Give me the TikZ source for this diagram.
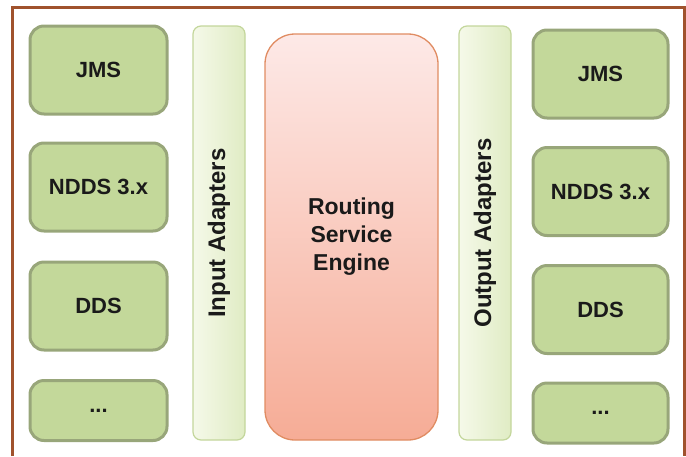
\documentclass[tikz,border=0pt]{standalone}
\usepackage{fontspec}
\setmainfont{Liberation Sans}
\usepackage{tikz}
\usetikzlibrary{positioning}
\definecolor{framebrown}{RGB}{160,82,45}
\definecolor{protofill}{RGB}{195,216,154}
\definecolor{protoline}{RGB}{152,166,122}
\definecolor{bartop}{RGB}{245,249,233}
\definecolor{barbot}{RGB}{224,236,196}
\definecolor{barline}{RGB}{195,214,155}
\definecolor{enginetop}{RGB}{253,233,231}
\definecolor{enginebot}{RGB}{246,172,150}
\definecolor{engineline}{RGB}{224,140,98}
\definecolor{txt}{RGB}{26,26,26}
\tikzstyle{proto} = [rectangle, rounded corners=14pt, minimum width=137pt, minimum height=88pt, text centered, draw=protoline, line width=3pt, fill=protofill, text=txt, font=\fontsize{22}{26}\selectfont\bfseries]
\tikzstyle{adapter} = [rectangle, rounded corners=8pt, minimum width=414pt, minimum height=52pt, text centered, draw=barline, line width=1.2pt, top color=bartop, bottom color=barbot, shading angle=90, rotate=90, text=txt, font=\fontsize{24}{28}\selectfont\bfseries]
\tikzstyle{engine} = [rectangle, rounded corners=30pt, minimum width=173pt, minimum height=406pt, align=center, draw=engineline, line width=1.3pt, top color=enginetop, bottom color=enginebot, text=txt, font=\fontsize{23}{28}\selectfont\bfseries]

\begin{document}
\begin{tikzpicture}[x=1pt, y=-1pt, node distance = 118pt]
				\useasboundingbox (0,0) rectangle (686,456);
				%frame
				\draw [framebrown, line width=3pt] (12,456) -- (12,7) -- (684.5,7) -- (684.5,456);
				
				%\node(label)[type]{name}
				\node(injms)[proto] at (98.5,70){JMS};
				\node(inndds)[proto, below of = injms, yshift = 1pt]{NDDS 3.x};
				\node(indds)[proto, below of = inndds, yshift = -1pt]{DDS};
				\node(inmore)[proto, minimum height = 60pt, below of = indds, yshift = 13.5pt]{...};
				
				\node(inadapt)[adapter] at (219,233){Input Adapters};
				\node(engine)[engine] at (351.5,237){Routing\\Service\\Engine};
				\node(outadapt)[adapter] at (485,233){Output Adapters};
				
				\node(outjms)[proto, minimum width = 135pt] at (600.5,74){JMS};
				\node(outndds)[proto, minimum width = 135pt, below of = outjms, yshift = 0.5pt]{NDDS 3.x};
				\node(outdds)[proto, minimum width = 135pt, below of = outndds]{DDS};
				\node(outmore)[proto, minimum width = 135pt, minimum height = 60pt, below of = outdds, yshift = 14.5pt]{...};
\end{tikzpicture}
\end{document}
